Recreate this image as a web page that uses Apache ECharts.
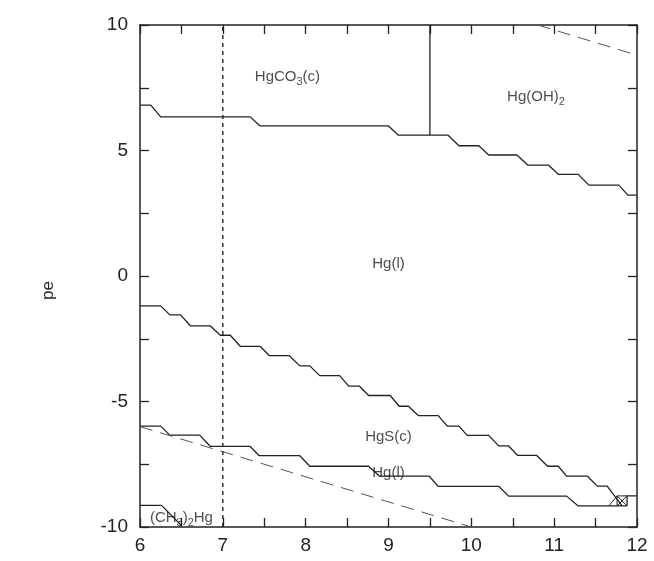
<!DOCTYPE html>
<html>
<head>
<meta charset="utf-8">
<script src="https://cdn.jsdelivr.net/npm/echarts@6/dist/echarts.min.js"></script>
<style>
  html, body { margin: 0; padding: 0; background: #fff; }
  #chart { width: 654px; height: 561px; }
</style>
</head>
<body>
<div id="chart"></div>
<script>
// pH / pe boundaries
var upperBoundary = [
  [6.00, 6.81], [6.13, 6.81], [6.25, 6.34], [7.33, 6.34], [7.45, 5.98],
  [9.00, 5.98], [9.12, 5.61], [9.72, 5.61], [9.85, 5.19], [10.09, 5.19],
  [10.21, 4.82], [10.55, 4.82], [10.68, 4.42], [10.93, 4.42], [11.05, 4.05],
  [11.29, 4.05], [11.42, 3.62], [11.78, 3.62], [11.89, 3.22], [12.00, 3.22]
];
var carbonateHydroxide = [[9.5, 10], [9.5, 5.61]];
var middleBoundary = [
  [6.00, -1.19], [6.25, -1.19], [6.36, -1.55], [6.49, -1.55], [6.61, -1.99],
  [6.85, -1.99], [6.97, -2.36], [7.09, -2.36], [7.21, -2.80], [7.45, -2.80],
  [7.56, -3.17], [7.80, -3.17], [7.93, -3.58], [8.05, -3.58], [8.17, -3.97],
  [8.41, -3.97], [8.52, -4.39], [8.65, -4.39], [8.76, -4.76], [9.02, -4.76],
  [9.13, -5.19], [9.24, -5.19], [9.36, -5.56], [9.60, -5.56], [9.71, -5.98],
  [9.85, -5.98], [9.95, -6.35], [10.21, -6.35], [10.33, -6.77], [10.45, -6.77],
  [10.56, -7.15], [10.79, -7.15], [10.92, -7.58], [11.05, -7.58], [11.15, -7.97],
  [11.40, -7.97], [11.52, -8.37], [11.64, -8.37], [11.82, -9.16]
];
var lowerBoundary = [
  [6.00, -5.98], [6.25, -5.98], [6.36, -6.34], [6.72, -6.34], [6.85, -6.79],
  [7.33, -6.79], [7.44, -7.16], [7.93, -7.16], [8.05, -7.58], [8.76, -7.58],
  [8.89, -7.97], [9.49, -7.97], [9.60, -8.38], [10.33, -8.38], [10.45, -8.77],
  [11.15, -8.77], [11.29, -9.16], [11.88, -9.16], [11.88, -8.76], [12.00, -8.76]
];
var cornerBox = [
  [11.76, -9.16], [11.76, -8.76], [11.88, -8.76], null,
  [11.76, -8.76], [11.88, -9.16], null, [11.76, -9.16], [11.88, -8.76], null,
  [11.66, -9.16], [11.76, -8.76]
];
var methylBoundary = [[6.00, -9.14], [6.26, -9.14], [6.50, -9.94]];
var waterLower = [[6, -6], [10, -10]];
var waterUpper = [[10.8, 10], [12, 8.8]];
var neutralLine = [[7, -10], [7, 10]];

var fieldLabels = [
  { pos: [7.78, 7.95], text: 'HgCO{s|3}(c)' },
  { pos: [10.78, 7.15], text: 'Hg(OH){s|2}' },
  { pos: [9.0, 0.5], text: 'Hg(l)' },
  { pos: [9.0, -6.4], text: 'HgS(c)' },
  { pos: [9.0, -7.85], text: 'Hg(l)' },
  { pos: [6.5, -9.62], text: '(CH{s|3}){s|2}Hg' }
];

var xTicks = { min: 6, max: 12, step: 0.5 };
var yTicks = { min: -10, max: 10, step: 2.5 };

var FONT = 'Liberation Sans, Arial, sans-serif';
var INK = '#222';

function lineSeries(data, style) {
  return {
    type: 'line', data: data, symbol: 'none', silent: true,
    connectNulls: false, animation: false,
    lineStyle: Object.assign({ color: INK, width: 1.3 }, style || {})
  };
}

function axisBase(isX, showLabel, pos) {
  var t = isX ? xTicks : yTicks;
  return {
    type: 'value', min: t.min, max: t.max, interval: t.step, position: pos,
    splitLine: { show: false },
    axisLine: { show: true, onZero: false, lineStyle: { color: INK, width: 1.5 } },
    axisTick: { show: true, inside: true, length: 9, lineStyle: { color: INK, width: 1.3 } },
    axisLabel: {
      show: showLabel, color: INK, fontFamily: FONT, fontSize: 19,
      margin: isX ? 9 : 12,
      formatter: function (v) {
        if (isX) return (v % 1 === 0) ? String(v) : '';
        return (v % 5 === 0) ? String(v) : '';
      }
    }
  };
}

var chart = echarts.init(document.getElementById('chart'), null, { renderer: 'canvas' });

chart.setOption({
  animation: false,
  backgroundColor: '#fff',
  grid: { left: 140, right: 17, top: 25, bottom: 34 },
  xAxis: [axisBase(true, true, 'bottom'), axisBase(true, false, 'top')],
  yAxis: [axisBase(false, true, 'left'), axisBase(false, false, 'right')],
  graphic: [{
    type: 'text', x: 40, y: 300, rotation: Math.PI / 2,
    style: { text: 'pe', fill: INK, font: '17px ' + FONT }
  }],
  series: [
    lineSeries(upperBoundary),
    lineSeries(carbonateHydroxide),
    lineSeries(middleBoundary),
    lineSeries(lowerBoundary),
    lineSeries(cornerBox, { width: 1 }),
    lineSeries(methylBoundary),
    lineSeries(waterLower, { color: '#555', width: 1, type: [13, 8] }),
    lineSeries(waterUpper, { color: '#555', width: 1, type: [13, 8] }),
    lineSeries(neutralLine, { color: INK, width: 1.4, type: [4, 4] }),
    {
      type: 'scatter', symbolSize: 0, silent: true, animation: false,
      data: fieldLabels.map(function (d) { return { value: d.pos, labelText: d.text }; }),
      label: {
        show: true, position: 'inside',
        formatter: function (p) { return p.data.labelText; },
        color: INK, fontFamily: FONT, fontSize: 15,
        rich: { s: { fontSize: 11, fontFamily: FONT, color: INK, padding: [11, 0, 0, 0] } }
      }
    }
  ]
});
</script>
</body>
</html>
